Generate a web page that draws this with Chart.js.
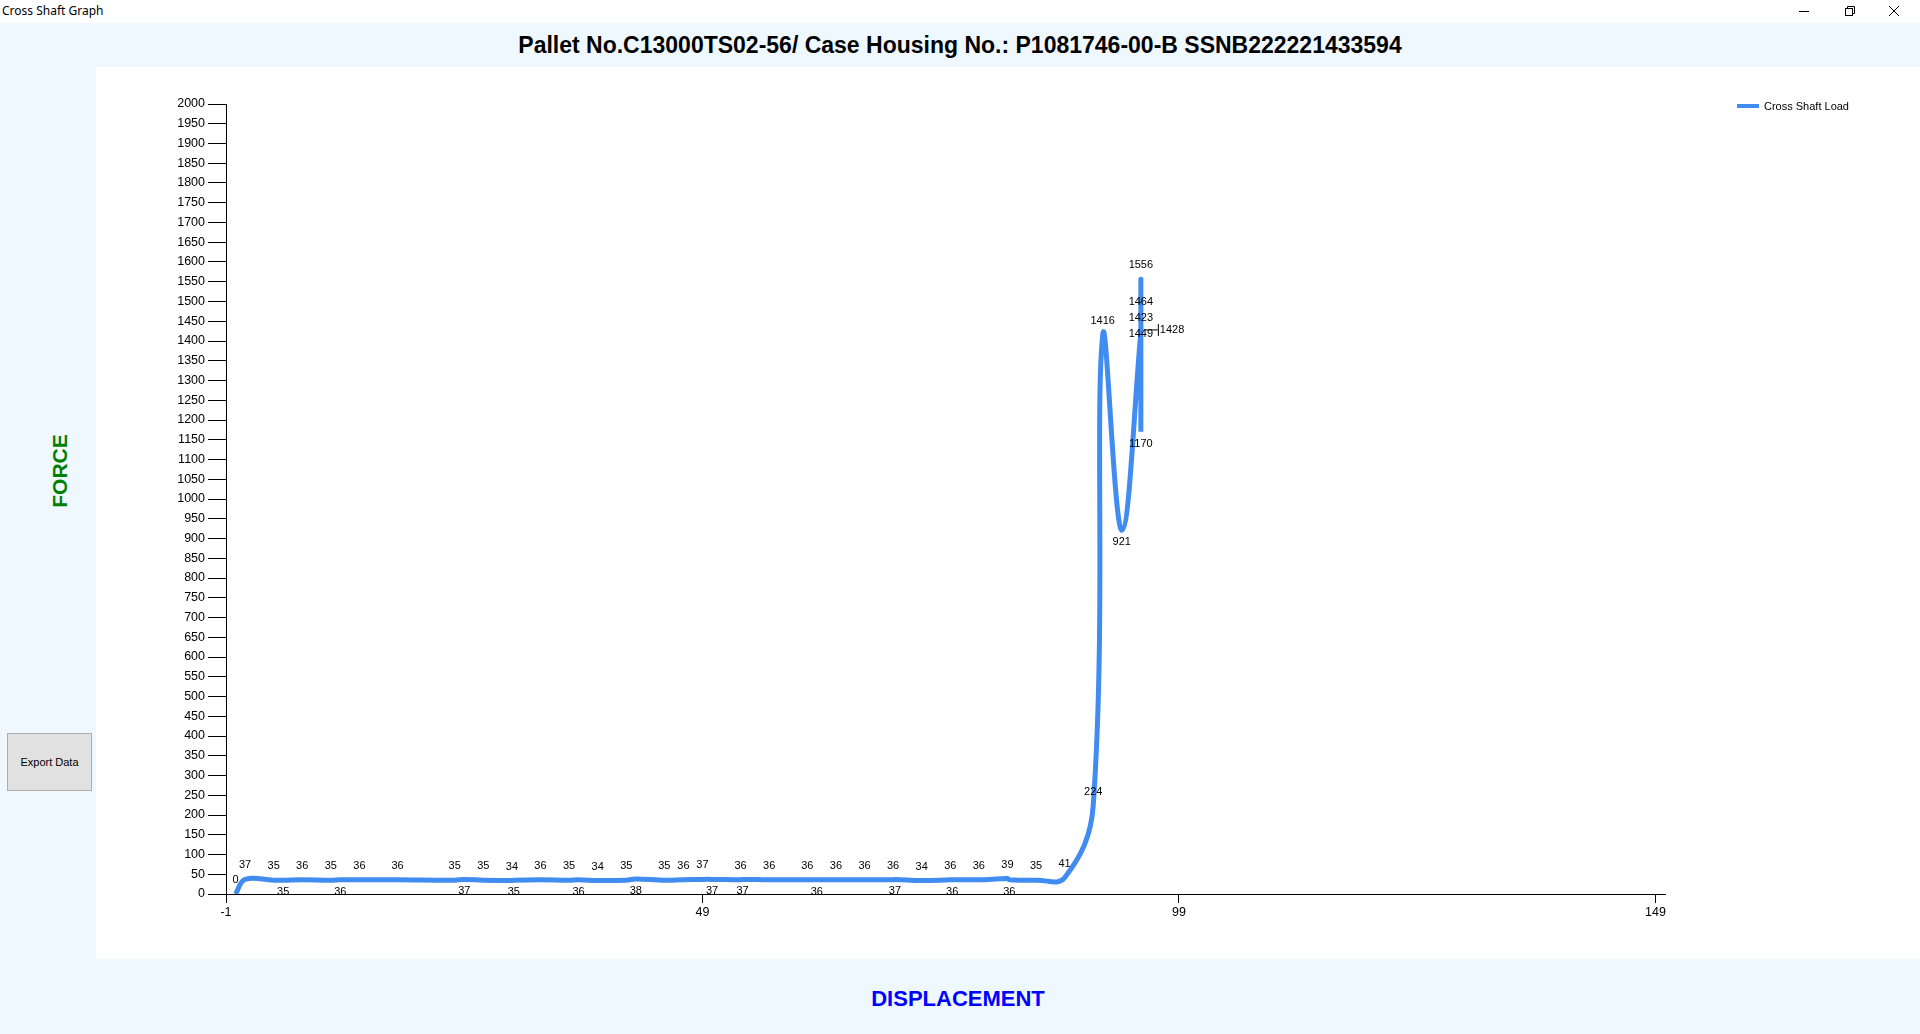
<!DOCTYPE html>
<html>
<head>
<meta charset="utf-8">
<title>Cross Shaft Graph</title>
<script src="https://cdn.jsdelivr.net/npm/chart.js@4.4.1/dist/chart.umd.min.js"></script>
<style>
  body { margin: 0; width: 1920px; height: 1034px; background: #F0F8FF; position: relative; overflow: hidden; font-family: "Liberation Sans", Arial, sans-serif; }
  #titlebar { position: absolute; left: 0; top: 0; width: 1920px; height: 23px; background: #fff; }
  #wintitle { position: absolute; left: 2px; top: 4px; font: 12px "Noto Sans", sans-serif; line-height: 14px; color: #000; }
  #heading { position: absolute; left: 0; top: 32px; width: 1920px; text-align: center; font: bold 23px "Liberation Sans", Arial, sans-serif; line-height: 26px; color: #000; }
  #plot { position: absolute; left: 96px; top: 67px; width: 1824px; height: 892px; background: #fff; }
  #force { position: absolute; left: 59px; top: 471px; transform: translate(-50%, -50%) rotate(-90deg); font: bold 21px "Liberation Sans", Arial, sans-serif; color: #008000; white-space: nowrap; line-height: 1; }
  #disp { position: absolute; left: 958px; top: 999px; transform: translate(-50%, -50%); font: bold 22px "Liberation Sans", Arial, sans-serif; color: #0000FF; white-space: nowrap; line-height: 1; }
  #export { position: absolute; left: 7px; top: 733px; width: 85px; height: 58px; box-sizing: border-box; background: #E1E1E1; border: 1px solid #ADADAD; display: flex; align-items: center; justify-content: center; font: 11px "Liberation Sans", Arial, sans-serif; color: #000; }
</style>
</head>
<body>
<div id="titlebar">
  <span id="wintitle">Cross Shaft Graph</span>
  <svg style="position:absolute; left:1780px; top:0" width="140" height="23">
    <line x1="19" y1="11.5" x2="29" y2="11.5" stroke="#000" stroke-width="1"/>
    <rect x="65.5" y="8.5" width="7" height="7" fill="none" stroke="#000"/>
    <polyline points="67.5,8.5 67.5,6.5 74.5,6.5 74.5,13.5 72.5,13.5" fill="none" stroke="#000"/>
    <line x1="109" y1="6" x2="119" y2="16" stroke="#000"/>
    <line x1="119" y1="6" x2="109" y2="16" stroke="#000"/>
  </svg>
</div>
<div id="heading">Pallet No.C13000TS02-56/ Case Housing No.: P1081746-00-B SSNB222221433594</div>
<div id="plot"><canvas id="chart" width="1824" height="892"></canvas></div>
<div id="force">FORCE</div>
<div id="disp">DISPLACEMENT</div>
<div id="export">Export Data</div>

<script>
// displacement of each logged point, and the cross shaft load read there
const displacement = [0, 1, 4, 5, 7, 10, 11, 13, 17, 23,
    24, 26, 29, 29.2, 32, 35, 36, 38, 41, 42,
    45, 47, 49, 50, 53, 53.2, 56, 60, 61, 63,
    66, 69, 69.2, 72, 75, 75.2, 78, 81, 81.2, 84,
    87, 90, 91, 93, 95, 95, 95, 95, 95, 95];
const force = [0, 37, 35, 35, 36, 35, 36, 36, 36, 35,
    37, 35, 34, 35, 36, 35, 36, 34, 35, 38,
    35, 36, 37, 37, 36, 37, 36, 36, 36, 36,
    36, 36, 37, 34, 36, 36, 36, 39, 36, 35,
    41, 224, 1416, 921, 1423, 1449, 1464, 1556, 1428, 1170];
const xTicks = [-1, 49, 99, 149];
const seriesName = "Cross Shaft Load";

const lineColor = "#418CF0";
const tickFont = { family: "Liberation Sans", size: 12.5 };

// point labels, placed above the point unless they hit one already drawn
const pointLabels = {
    id: "pointLabels",
    afterDatasetsDraw(chart) {
        const ctx = chart.ctx;
        const pts = chart.getDatasetMeta(0).data;
        const vals = chart.data.datasets[0].data.map(p => p.y);
        const placed = [];
        const hits = b => placed.some(o => b.l < o.r && b.r > o.l && b.t < o.b && b.b > o.t);
        ctx.save();
        ctx.font = "11px 'Liberation Sans'";
        ctx.fillStyle = "#000";
        ctx.textBaseline = "middle";
        pts.forEach((pt, i) => {
            const v = vals[i];
            const txt = String(v);
            const w = ctx.measureText(txt).width;
            const box = cy => ({ l: pt.x - w / 2, r: pt.x + w / 2, t: cy - 6, b: cy + 6, cy });
            const up = box(pt.y - 14), down = box(pt.y + 12);
            const prev = vals[i - 1], next = vals[i + 1];
            const dip = i > 0 && v < prev - 100 && (next === undefined || v < next - 100);
            const order = dip ? [down, up] : [up, down];
            const spot = order.find(b => !hits(b));
            if (spot) {
                placed.push(spot);
                ctx.textAlign = "center";
                ctx.fillText(txt, pt.x, spot.cy);
            } else {
                // no room: put it to the right with a short callout
                const lx = pt.x + 17;
                ctx.strokeStyle = "#000";
                ctx.lineWidth = 1;
                ctx.beginPath();
                ctx.moveTo(pt.x + 4, pt.y); ctx.lineTo(lx, pt.y);
                ctx.moveTo(lx + 0.5, pt.y - 6); ctx.lineTo(lx + 0.5, pt.y + 6);
                ctx.stroke();
                ctx.textAlign = "left";
                ctx.fillText(txt, lx + 2, pt.y);
                placed.push({ l: lx, r: lx + 2 + w, t: pt.y - 6, b: pt.y + 6 });
            }
        });
        ctx.restore();
    }
};

// legend in the top right corner of the white panel
const cornerLegend = {
    id: "cornerLegend",
    afterDraw(chart) {
        const ctx = chart.ctx;
        ctx.save();
        ctx.strokeStyle = lineColor;
        ctx.lineWidth = 4;
        ctx.beginPath();
        ctx.moveTo(1641, 39); ctx.lineTo(1663, 39);
        ctx.stroke();
        ctx.font = "11px 'Liberation Sans'";
        ctx.fillStyle = "#000";
        ctx.textBaseline = "middle";
        ctx.fillText(chart.data.datasets[0].label, 1668, 39.5);
        ctx.restore();
    }
};

new Chart(document.getElementById("chart"), {
    type: "scatter",
    data: {
        datasets: [{
            label: seriesName,
            data: force.map((y, i) => ({ x: displacement[i], y })),
            showLine: true,
            borderColor: lineColor,
            backgroundColor: lineColor,
            borderWidth: 5,
            pointRadius: 0,
            tension: 0.4,
        }],
    },
    options: {
        responsive: false,
        animation: false,
        layout: { padding: { left: 0, top: 37, right: 255, bottom: 0 } },
        plugins: {
            legend: { display: false },
            tooltip: { enabled: false },
        },
        scales: {
            x: {
                type: "linear",
                min: -1,
                max: 150,
                afterBuildTicks: axis => { axis.ticks = xTicks.map(v => ({ value: v })); },
                afterFit: s => { s.height = 65; },
                grid: { drawOnChartArea: false, drawTicks: true, tickLength: 9, color: "#000" },
                border: { display: true, color: "#000", width: 1 },
                ticks: { color: "#000", font: tickFont, padding: 2, autoSkip: false, maxRotation: 0, callback: v => String(v) },
            },
            y: {
                min: 0,
                max: 2000,
                afterFit: s => { s.width = 130; },
                grid: { drawOnChartArea: false, drawTicks: true, tickLength: 18, color: "#000" },
                border: { display: true, color: "#000", width: 1 },
                ticks: { stepSize: 50, autoSkip: false, color: "#000", font: tickFont, padding: 3, callback: v => String(v) },
            },
        },
    },
    plugins: [pointLabels, cornerLegend],
});
</script>
</body>
</html>
